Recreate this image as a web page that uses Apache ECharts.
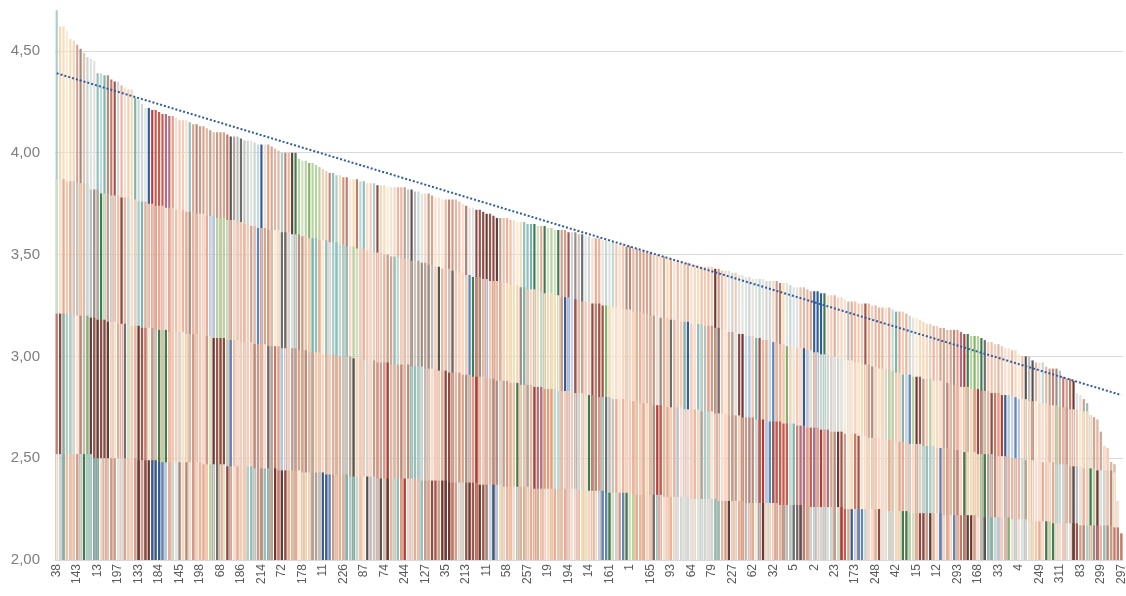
<!DOCTYPE html>
<html>
<head>
<meta charset="utf-8">
<script src="https://cdn.jsdelivr.net/npm/echarts@6/dist/echarts.min.js"></script>
<style>
  html, body { margin: 0; padding: 0; background: #fff; }
  #chart { width: 1126px; height: 596px; }
</style>
</head>
<body>
<div id="chart"></div>
<script>
// labels that are printed under the axis (one every 6th bar)
var shownLabels = [38, 143, 13, 197, 133, 184, 145, 198, 68, 186, 214, 72, 178, 11, 226, 87, 74, 244,
  127, 35, 213, 11, 58, 257, 19, 194, 14, 161, 1, 165, 93, 64, 79, 227, 62, 32, 5, 2, 23, 173, 248,
  42, 15, 12, 293, 168, 33, 4, 249, 311, 83, 299, 297];

// full bar height (sorted)
var topValues = [
  4.70, 4.62, 4.62, 4.60, 4.56, 4.55, 4.53, 4.51, 4.49, 4.47,
  4.46, 4.45, 4.39, 4.39, 4.38, 4.38, 4.36, 4.35, 4.35, 4.33,
  4.32, 4.31, 4.31, 4.27, 4.26, 4.24, 4.22, 4.22, 4.21, 4.21,
  4.20, 4.19, 4.19, 4.18, 4.18, 4.17, 4.16, 4.16, 4.16, 4.15,
  4.14, 4.14, 4.13, 4.13, 4.12, 4.11, 4.10, 4.10, 4.10, 4.10,
  4.09, 4.08, 4.08, 4.08, 4.07, 4.06, 4.06, 4.06, 4.05, 4.04,
  4.04, 4.04, 4.04, 4.03, 4.02, 4.01, 4.00, 4.00, 4.00, 4.00,
  4.00, 3.97, 3.96, 3.96, 3.95, 3.95, 3.94, 3.93, 3.92, 3.91,
  3.90, 3.90, 3.89, 3.89, 3.88, 3.88, 3.87, 3.87, 3.87, 3.86,
  3.86, 3.85, 3.85, 3.85, 3.84, 3.84, 3.84, 3.83, 3.83, 3.83,
  3.83, 3.83, 3.83, 3.82, 3.82, 3.81, 3.81, 3.80, 3.80, 3.80,
  3.79, 3.78, 3.78, 3.77, 3.77, 3.77, 3.77, 3.77, 3.76, 3.75,
  3.74, 3.73, 3.73, 3.72, 3.72, 3.71, 3.70, 3.70, 3.69, 3.68,
  3.68, 3.68, 3.68, 3.67, 3.67, 3.66, 3.66, 3.66, 3.65, 3.65,
  3.65, 3.64, 3.64, 3.64, 3.63, 3.63, 3.62, 3.62, 3.62, 3.62,
  3.61, 3.61, 3.61, 3.60, 3.60, 3.59, 3.59, 3.58, 3.58, 3.58,
  3.57, 3.57, 3.56, 3.56, 3.55, 3.55, 3.55, 3.54, 3.54, 3.53,
  3.53, 3.52, 3.52, 3.51, 3.51, 3.50, 3.50, 3.49, 3.49, 3.48,
  3.48, 3.47, 3.47, 3.47, 3.46, 3.46, 3.45, 3.45, 3.45, 3.44,
  3.44, 3.44, 3.44, 3.43, 3.43, 3.42, 3.42, 3.42, 3.41, 3.41,
  3.40, 3.40, 3.39, 3.39, 3.38, 3.38, 3.38, 3.38, 3.37, 3.37,
  3.37, 3.37, 3.36, 3.36, 3.36, 3.35, 3.34, 3.34, 3.34, 3.34,
  3.33, 3.32, 3.32, 3.32, 3.31, 3.31, 3.30, 3.30, 3.30, 3.29,
  3.29, 3.28, 3.27, 3.27, 3.27, 3.26, 3.26, 3.26, 3.26, 3.25,
  3.25, 3.24, 3.24, 3.24, 3.24, 3.23, 3.22, 3.22, 3.22, 3.21,
  3.20, 3.19, 3.19, 3.18, 3.17, 3.16, 3.16, 3.15, 3.15, 3.14,
  3.14, 3.13, 3.13, 3.13, 3.13, 3.12, 3.11, 3.11, 3.10, 3.10,
  3.10, 3.09, 3.08, 3.07, 3.07, 3.06, 3.06, 3.05, 3.04, 3.04,
  3.03, 3.03, 3.01, 3.00, 3.00, 3.00, 2.98, 2.97, 2.97, 2.97,
  2.95, 2.94, 2.94, 2.94, 2.93, 2.90, 2.89, 2.89, 2.88, 2.82,
  2.81, 2.79, 2.77, 2.71, 2.70, 2.69, 2.63, 2.56, 2.55, 2.48,
  2.47, 2.29, 2.13
];

// upper band edge
var band3 = [
  3.87, 3.87, 3.87, 3.86, 3.86, 3.86, 3.85, 3.85, 3.85, 3.85,
  3.82, 3.82, 3.82, 3.80, 3.80, 3.80, 3.79, 3.79, 3.79, 3.78,
  3.78, 3.78, 3.77, 3.77, 3.76, 3.76, 3.76, 3.75, 3.75, 3.74,
  3.74, 3.74, 3.73, 3.73, 3.73, 3.72, 3.72, 3.72, 3.71, 3.71,
  3.71, 3.70, 3.70, 3.70, 3.69, 3.69, 3.69, 3.68, 3.68, 3.68,
  3.67, 3.67, 3.67, 3.66, 3.66, 3.65, 3.65, 3.64, 3.64, 3.63,
  3.63, 3.63, 3.62, 3.62, 3.62, 3.62, 3.61, 3.61, 3.61, 3.60,
  3.60, 3.60, 3.59, 3.59, 3.58, 3.58, 3.58, 3.57, 3.57, 3.57,
  3.56, 3.56, 3.56, 3.55, 3.55, 3.54, 3.54, 3.54, 3.53, 3.53,
  3.53, 3.52, 3.52, 3.51, 3.51, 3.51, 3.50, 3.50, 3.49, 3.49,
  3.49, 3.48, 3.48, 3.48, 3.47, 3.47, 3.47, 3.46, 3.46, 3.45,
  3.45, 3.44, 3.44, 3.43, 3.43, 3.43, 3.42, 3.42, 3.41, 3.41,
  3.40, 3.40, 3.39, 3.39, 3.39, 3.38, 3.38, 3.37, 3.37, 3.37,
  3.37, 3.36, 3.36, 3.35, 3.35, 3.35, 3.34, 3.34, 3.33, 3.33,
  3.33, 3.32, 3.32, 3.31, 3.31, 3.31, 3.30, 3.30, 3.29, 3.29,
  3.29, 3.28, 3.28, 3.28, 3.27, 3.27, 3.27, 3.26, 3.26, 3.26,
  3.25, 3.25, 3.25, 3.24, 3.24, 3.24, 3.23, 3.23, 3.23, 3.22,
  3.22, 3.22, 3.21, 3.21, 3.20, 3.20, 3.20, 3.19, 3.19, 3.19,
  3.18, 3.18, 3.18, 3.17, 3.17, 3.17, 3.16, 3.16, 3.16, 3.16,
  3.15, 3.15, 3.15, 3.14, 3.14, 3.13, 3.13, 3.12, 3.12, 3.12,
  3.11, 3.11, 3.10, 3.10, 3.10, 3.09, 3.09, 3.08, 3.08, 3.08,
  3.07, 3.07, 3.06, 3.06, 3.05, 3.05, 3.05, 3.04, 3.04, 3.04,
  3.03, 3.03, 3.02, 3.02, 3.01, 3.01, 3.01, 3.00, 3.00, 2.99,
  2.99, 2.98, 2.98, 2.98, 2.97, 2.97, 2.96, 2.96, 2.96, 2.95,
  2.95, 2.94, 2.94, 2.94, 2.93, 2.93, 2.92, 2.92, 2.91, 2.91,
  2.91, 2.90, 2.90, 2.90, 2.89, 2.89, 2.89, 2.88, 2.88, 2.88,
  2.87, 2.87, 2.86, 2.86, 2.86, 2.85, 2.85, 2.85, 2.84, 2.84,
  2.84, 2.83, 2.83, 2.83, 2.82, 2.82, 2.82, 2.81, 2.81, 2.81,
  2.80, 2.80, 2.79, 2.79, 2.79, 2.78, 2.78, 2.78, 2.77, 2.77,
  2.77, 2.76, 2.76, 2.76, 2.75, 2.75, 2.75, 2.74, 2.74, 2.74,
  2.73, 2.73, 2.73, 2.72, 2.72, 2.71, 2.71, 2.71, 2.70, 2.70,
  2.70, 2.69, 2.69
];

// middle band edge
var band2 = [
  3.21, 3.21, 3.21, 3.21, 3.21, 3.20, 3.20, 3.20, 3.20, 3.20,
  3.19, 3.19, 3.18, 3.18, 3.18, 3.17, 3.17, 3.17, 3.16, 3.16,
  3.16, 3.15, 3.15, 3.15, 3.15, 3.14, 3.14, 3.14, 3.14, 3.13,
  3.13, 3.13, 3.13, 3.12, 3.12, 3.12, 3.12, 3.12, 3.11, 3.11,
  3.11, 3.11, 3.11, 3.10, 3.10, 3.10, 3.09, 3.09, 3.09, 3.09,
  3.08, 3.08, 3.08, 3.08, 3.07, 3.07, 3.07, 3.07, 3.06, 3.06,
  3.06, 3.06, 3.05, 3.05, 3.05, 3.05, 3.04, 3.04, 3.04, 3.04,
  3.04, 3.03, 3.03, 3.03, 3.02, 3.02, 3.02, 3.02, 3.01, 3.01,
  3.01, 3.01, 3.00, 3.00, 3.00, 3.00, 3.00, 2.99, 2.99, 2.99,
  2.98, 2.98, 2.98, 2.98, 2.97, 2.97, 2.97, 2.97, 2.96, 2.96,
  2.96, 2.96, 2.96, 2.96, 2.95, 2.95, 2.95, 2.95, 2.94, 2.94,
  2.94, 2.94, 2.93, 2.93, 2.93, 2.92, 2.92, 2.92, 2.92, 2.91,
  2.91, 2.91, 2.90, 2.90, 2.90, 2.90, 2.89, 2.89, 2.89, 2.88,
  2.88, 2.88, 2.88, 2.87, 2.87, 2.87, 2.86, 2.86, 2.86, 2.86,
  2.85, 2.85, 2.85, 2.84, 2.84, 2.84, 2.84, 2.83, 2.83, 2.83,
  2.83, 2.82, 2.82, 2.82, 2.82, 2.81, 2.81, 2.81, 2.81, 2.80,
  2.80, 2.80, 2.80, 2.79, 2.79, 2.79, 2.79, 2.78, 2.78, 2.78,
  2.78, 2.77, 2.77, 2.77, 2.77, 2.76, 2.76, 2.76, 2.76, 2.75,
  2.75, 2.75, 2.75, 2.75, 2.74, 2.74, 2.74, 2.74, 2.74, 2.73,
  2.73, 2.73, 2.73, 2.72, 2.72, 2.72, 2.72, 2.71, 2.71, 2.71,
  2.71, 2.70, 2.70, 2.70, 2.70, 2.69, 2.69, 2.69, 2.69, 2.68,
  2.68, 2.68, 2.68, 2.67, 2.67, 2.67, 2.67, 2.66, 2.66, 2.66,
  2.65, 2.65, 2.65, 2.65, 2.64, 2.64, 2.64, 2.63, 2.63, 2.63,
  2.63, 2.62, 2.62, 2.62, 2.62, 2.61, 2.61, 2.61, 2.60, 2.60,
  2.60, 2.60, 2.59, 2.59, 2.59, 2.59, 2.58, 2.58, 2.58, 2.58,
  2.57, 2.57, 2.57, 2.57, 2.56, 2.56, 2.56, 2.56, 2.55, 2.55,
  2.55, 2.55, 2.54, 2.54, 2.54, 2.54, 2.53, 2.53, 2.53, 2.53,
  2.52, 2.52, 2.52, 2.52, 2.52, 2.51, 2.51, 2.51, 2.51, 2.51,
  2.50, 2.50, 2.50, 2.50, 2.49, 2.49, 2.49, 2.49, 2.49, 2.48,
  2.48, 2.48, 2.48, 2.47, 2.47, 2.47, 2.47, 2.46, 2.46, 2.46,
  2.46, 2.45, 2.45, 2.45, 2.45, 2.44, 2.44, 2.44, 2.44, 2.44,
  2.43, 2.43, 2.43
];

// lower band edge
var band1 = [
  2.52, 2.52, 2.52, 2.52, 2.52, 2.52, 2.52, 2.52, 2.52, 2.52,
  2.52, 2.50, 2.50, 2.50, 2.50, 2.50, 2.50, 2.50, 2.50, 2.50,
  2.50, 2.50, 2.50, 2.50, 2.49, 2.49, 2.49, 2.49, 2.49, 2.49,
  2.48, 2.48, 2.48, 2.48, 2.48, 2.48, 2.48, 2.48, 2.48, 2.48,
  2.48, 2.48, 2.48, 2.47, 2.47, 2.47, 2.47, 2.47, 2.47, 2.47,
  2.46, 2.46, 2.46, 2.46, 2.46, 2.46, 2.46, 2.46, 2.45, 2.45,
  2.45, 2.45, 2.45, 2.45, 2.45, 2.44, 2.44, 2.44, 2.44, 2.44,
  2.44, 2.44, 2.43, 2.43, 2.43, 2.43, 2.43, 2.43, 2.43, 2.42,
  2.42, 2.42, 2.42, 2.42, 2.42, 2.42, 2.41, 2.41, 2.41, 2.41,
  2.41, 2.41, 2.41, 2.41, 2.40, 2.40, 2.40, 2.40, 2.40, 2.40,
  2.40, 2.40, 2.40, 2.40, 2.40, 2.40, 2.40, 2.39, 2.39, 2.39,
  2.39, 2.39, 2.39, 2.39, 2.39, 2.38, 2.38, 2.38, 2.38, 2.38,
  2.38, 2.38, 2.38, 2.38, 2.37, 2.37, 2.37, 2.37, 2.37, 2.37,
  2.37, 2.36, 2.36, 2.36, 2.36, 2.36, 2.36, 2.36, 2.36, 2.35,
  2.35, 2.35, 2.35, 2.35, 2.35, 2.35, 2.35, 2.35, 2.35, 2.35,
  2.35, 2.35, 2.35, 2.34, 2.34, 2.34, 2.34, 2.34, 2.34, 2.34,
  2.34, 2.33, 2.33, 2.33, 2.33, 2.33, 2.33, 2.33, 2.33, 2.32,
  2.32, 2.32, 2.32, 2.32, 2.32, 2.32, 2.32, 2.32, 2.31, 2.31,
  2.31, 2.31, 2.31, 2.31, 2.31, 2.31, 2.30, 2.30, 2.30, 2.30,
  2.30, 2.30, 2.30, 2.30, 2.29, 2.29, 2.29, 2.29, 2.29, 2.29,
  2.29, 2.29, 2.28, 2.28, 2.28, 2.28, 2.28, 2.28, 2.28, 2.28,
  2.28, 2.28, 2.27, 2.27, 2.27, 2.27, 2.27, 2.27, 2.27, 2.27,
  2.27, 2.26, 2.26, 2.26, 2.26, 2.26, 2.26, 2.26, 2.26, 2.26,
  2.26, 2.25, 2.25, 2.25, 2.25, 2.25, 2.25, 2.25, 2.25, 2.25,
  2.25, 2.25, 2.24, 2.24, 2.24, 2.24, 2.24, 2.24, 2.24, 2.24,
  2.23, 2.23, 2.23, 2.23, 2.23, 2.23, 2.23, 2.23, 2.23, 2.23,
  2.22, 2.22, 2.22, 2.22, 2.22, 2.22, 2.22, 2.22, 2.22, 2.22,
  2.21, 2.21, 2.21, 2.21, 2.21, 2.21, 2.21, 2.21, 2.21, 2.21,
  2.20, 2.20, 2.20, 2.20, 2.20, 2.19, 2.19, 2.19, 2.19, 2.19,
  2.19, 2.19, 2.18, 2.18, 2.18, 2.18, 2.18, 2.18, 2.18, 2.18,
  2.17, 2.17, 2.17, 2.17, 2.17, 2.17, 2.17, 2.17, 2.17, 2.17,
  2.16, 2.16, 2.16
];

// dotted linear trend, value at first and last bar
var trendEnds = [4.39, 2.81];

var N = topValues.length;
var categories = [];
for (var i = 0; i < N; i++) {
  categories.push(i % 6 === 0 ? String(shownLabels[i / 6]) : '');
}

// muted colour families
var families = [
  ['#F4C9B0', '#F1BFA5', '#F7D6C3', '#EDB49B', '#E7AD93', '#F3CDBA', '#F8DDD0'],
  ['#F9E2CC', '#FBE9D6', '#F6DDB4', '#F3D8BF'],
  ['#D8A48E', '#C99A87', '#E0B8A6', '#B98A7A'],
  ['#8C4B43', '#A0554A', '#6B3A34', '#C27A6A', '#D19C8C'],
  ['#DCE5E3', '#C9D8D5', '#E6E2DC', '#D2D6D4'],
  ['#A9CFCB', '#8FC0BB', '#BFD9D5', '#7FB3AE'],
  ['#B4A296', '#9C8D84', '#BDBDBD', '#6E6E6E', '#555250', '#CBC3BC'],
  ['#B8D3A0', '#86B36C', '#3F7C4F', '#CFE0C0'],
  ['#AFC6E4', '#5B86BE', '#2F5E98', '#C5D5EA'],
  ['#B23C3C', '#B56B80', '#C85A50', '#E89A7C']
];
var famWeights = [4.5, 1.8, 2.2, 1.6, 1.6, 1.3, 1.6, 0.9, 1, 0.5];

function hash(a, b) {
  var h = Math.imul(a ^ 0x5bd1e995, 0x27d4eb2d) ^ Math.imul(b + 0x9e37, 0x165667b1);
  h ^= h >>> 13;
  h = Math.imul(h, 0x85ebca6b);
  h ^= h >>> 16;
  return (h >>> 0) / 4294967296;
}

function segmentColors(s) {
  var out = [], total = 0, f = 0;
  famWeights.forEach(function (w) { total += w; });
  for (var i = 0; i < N; i++) {
    if (i === 0 || hash(i, s * 31 + 5) > 0.5) {
      var t = hash(i, s * 31 + 1) * total, acc = 0;
      for (f = 0; f < families.length - 1; f++) {
        acc += famWeights[f];
        if (t < acc) break;
      }
    }
    var fam = families[f];
    out.push(fam[Math.floor(hash(i, s * 31 + 3) * fam.length)]);
  }
  return out;
}

function clip(arr) {
  return arr.map(function (v, i) { return Math.min(v, topValues[i]); });
}

function barSeries(name, values, s) {
  var cols = segmentColors(s);
  return {
    name: name,
    type: 'bar',
    data: values,
    barGap: '-100%',
    barCategoryGap: '36%',
    silent: true,
    emphasis: { disabled: true },
    itemStyle: { color: function (p) { return cols[p.dataIndex]; } }
  };
}

var chart = echarts.init(document.getElementById('chart'));

var series = [
  barSeries('top', topValues, 1),
  barSeries('band3', clip(band3), 2),
  barSeries('band2', clip(band2), 3),
  barSeries('band1', clip(band1), 4)
];
series[3].markLine = {
  silent: true,
  symbol: ['none', 'none'],
  label: { show: false },
  lineStyle: { color: '#2F5C9E', width: 2, type: 'dotted' },
  data: [[{ coord: [0, trendEnds[0]] }, { coord: [N - 1, trendEnds[1]] }]]
};

var option = {
  animation: false,
  backgroundColor: '#ffffff',
  grid: { left: 55, right: 3, top: 0, bottom: 36, outerBoundsMode: 'none' },
  xAxis: {
    type: 'category',
    data: categories,
    axisLine: { lineStyle: { color: '#D9D9D9' } },
    axisTick: { show: false },
    axisLabel: {
      interval: 5,
      rotate: 90,
      margin: 4,
      color: '#595959',
      fontSize: 12,
      fontFamily: 'Liberation Sans'
    }
  },
  yAxis: {
    type: 'value',
    min: 2,
    max: 4.75,
    interval: 0.5,
    axisLine: { show: false },
    axisTick: { show: false },
    splitLine: { showMaxLine: false, lineStyle: { color: '#D9D9D9', width: 1 } },
    axisLabel: {
      showMaxLabel: false,
      margin: 15,
      color: '#7F7F7F',
      fontSize: 15,
      fontFamily: 'Liberation Sans',
      formatter: function (v) { return v.toFixed(2).replace('.', ','); }
    }
  },
  series: series
};

chart.setOption(option);
</script>
</body>
</html>
